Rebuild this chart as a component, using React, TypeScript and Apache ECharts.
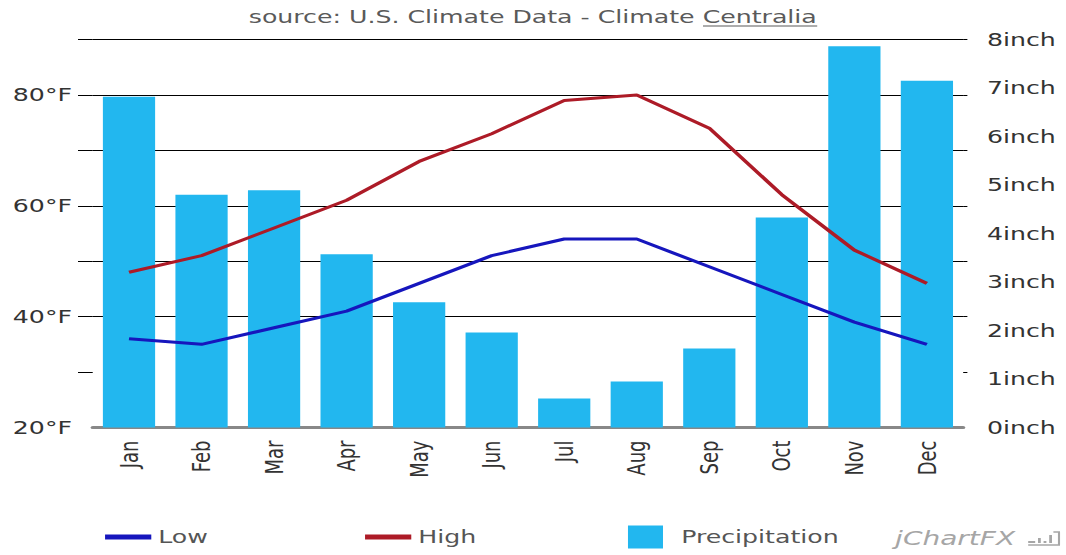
import React, { useEffect, useRef } from 'react';
import * as echarts from 'echarts';

const months = ['Jan', 'Feb', 'Mar', 'Apr', 'May', 'Jun', 'Jul', 'Aug', 'Sep', 'Oct', 'Nov', 'Dec'];
const lowTemps = [36, 35, 38, 41, 46, 51, 54, 54, 49, 44, 39, 35];
const highTemps = [48, 51, 56, 61, 68, 73, 79, 80, 74, 62, 52, 46];
const precipitation = [6.82, 4.8, 4.89, 3.57, 2.58, 1.96, 0.6, 0.95, 1.63, 4.33, 7.86, 7.15];
const tempTickValues = [30, 40, 50, 60, 70, 80, 90];
const tempLabelValues = [20, 40, 60, 80];

const TITLE_PREFIX = 'source: U.S. Climate Data - Climate ';
const TITLE_LINK = 'Centralia';

const W = 761;
const H = 555;
const STRETCH = 1066 / W;
const FONT = '"DejaVu Sans", Verdana, sans-serif';

function measure(text: string, font: string): number {
  const ctx = document.createElement('canvas').getContext('2d');
  if (!ctx) return text.length * 10;
  ctx.font = font;
  return ctx.measureText(text).width;
}

export default function App() {
  const ref = useRef<HTMLDivElement>(null);

  useEffect(() => {
    if (!ref.current) return;
    const chart = echarts.init(ref.current, undefined, { renderer: 'svg' });

    const titleFont = `18px ${FONT}`;
    const fullW = measure(TITLE_PREFIX + TITLE_LINK, titleFont);
    const preW = measure(TITLE_PREFIX, titleFont);
    const titleLeft = W / 2 - fullW / 2;

    const legendText = { fontSize: 18, fontFamily: FONT, color: '#555', lineHeight: 23 };

    chart.setOption({
      animation: false,
      backgroundColor: '#fff',
      textStyle: { fontFamily: FONT },
      grid: { left: 66.2, right: 73.4, top: 39.5, bottom: 127.5, containLabel: false },
      legend: [
        {
          data: ['Low'], left: 75, top: 525.5, padding: 0, icon: 'rect',
          itemWidth: 33, itemHeight: 5, selectedMode: false, textStyle: legendText,
        },
        {
          data: ['High'], left: 260.6, top: 525.5, padding: 0, icon: 'rect',
          itemWidth: 33, itemHeight: 5, selectedMode: false, textStyle: legendText,
        },
        {
          data: ['Precipitation'], left: 448.3, top: 525.5, padding: 0, icon: 'rect',
          itemWidth: 25, itemHeight: 23, selectedMode: false,
          textStyle: { ...legendText, padding: [0, 0, 0, 8] },
        },
      ],
      xAxis: {
        type: 'category',
        data: months,
        boundaryGap: true,
        axisLine: { show: true, lineStyle: { color: '#888', width: 3 } },
        axisTick: { show: false },
        axisLabel: { rotate: 90, margin: 13, fontSize: 18, fontFamily: FONT, color: '#333', interval: 0 },
        splitLine: { show: false },
      },
      yAxis: [
        {
          type: 'value',
          position: 'left',
          min: 20,
          max: 90,
          interval: 10,
          axisLine: { show: false },
          axisTick: { show: true, length: 10.5, customValues: tempTickValues, lineStyle: { color: '#000', width: 1 } },
          axisLabel: {
            margin: 14.8,
            fontSize: 18,
            fontFamily: FONT,
            color: '#333',
            customValues: tempLabelValues,
            formatter: (v: number) => `${v}°F`,
          },
          splitLine: { show: true, showMinLine: false, lineStyle: { color: '#000', width: 1 } },
        },
        {
          type: 'value',
          position: 'right',
          min: 0,
          max: 8,
          interval: 1,
          axisLine: { show: false },
          axisTick: { show: false },
          axisLabel: { margin: 17, fontSize: 18, fontFamily: FONT, color: '#333', formatter: '{value}inch' },
          splitLine: { show: false },
        },
        {
          type: 'value',
          position: 'right',
          min: 20,
          max: 90,
          interval: 10,
          axisLine: { show: false },
          axisTick: { show: true, length: 3, customValues: tempTickValues, lineStyle: { color: '#000', width: 1 } },
          axisLabel: { show: false },
          splitLine: { show: false },
        },
      ],
      series: [
        {
          name: 'Precipitation',
          type: 'bar',
          yAxisIndex: 1,
          data: precipitation,
          barWidth: '72%',
          itemStyle: { color: '#22b7ef' },
        },
        {
          name: 'Low',
          type: 'line',
          yAxisIndex: 0,
          data: lowTemps,
          symbol: 'none',
          lineStyle: { color: '#1616bd', width: 3 },
          itemStyle: { color: '#1616bd' },
        },
        {
          name: 'High',
          type: 'line',
          yAxisIndex: 0,
          data: highTemps,
          symbol: 'none',
          lineStyle: { color: '#ad1b27', width: 3 },
          itemStyle: { color: '#ad1b27' },
        },
      ],
      graphic: [
        {
          type: 'text',
          x: titleLeft,
          y: 17,
          style: {
            text: TITLE_PREFIX + TITLE_LINK,
            fontSize: 18,
            fontFamily: FONT,
            fill: '#5a5a5a',
            align: 'left',
            verticalAlign: 'middle',
          },
        },
        {
          type: 'line',
          shape: { x1: titleLeft + preW, y1: 26, x2: titleLeft + fullW, y2: 26 },
          style: { stroke: '#5a5a5a', lineWidth: 1 },
        },
        {
          type: 'text',
          x: 639,
          y: 538,
          style: {
            text: 'jChartFX',
            fontSize: 20,
            fontStyle: 'italic',
            fontFamily: FONT,
            fill: '#a6a6a6',
            align: 'left',
            verticalAlign: 'middle',
          },
        },
        {
          type: 'group',
          x: 734,
          y: 531,
          children: [
            { type: 'rect', shape: { x: 0, y: 10, width: 5, height: 2 }, style: { fill: '#a6a6a6' } },
            { type: 'rect', shape: { x: 7, y: 7, width: 2, height: 5 }, style: { fill: '#a6a6a6' } },
            { type: 'rect', shape: { x: 11, y: 10, width: 2, height: 2 }, style: { fill: '#a6a6a6' } },
            { type: 'rect', shape: { x: 15, y: 4, width: 2, height: 8 }, style: { fill: '#a6a6a6' } },
            { type: 'polyline', shape: { points: [[18, 1], [22, 1], [22, 14], [0, 14]] }, style: { stroke: '#a6a6a6', lineWidth: 1.5, fill: 'none' } },
          ],
        },
      ],
    });

    return () => chart.dispose();
  }, []);

  return (
    <div
      ref={ref}
      style={{
        position: 'absolute',
        left: 0,
        top: 0,
        width: W,
        height: H,
        transform: `scaleX(${STRETCH})`,
        transformOrigin: '0 0',
      }}
    />
  );
}
